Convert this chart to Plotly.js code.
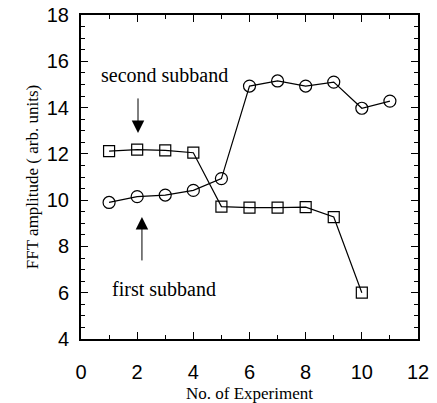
<!DOCTYPE html>
<html><head><meta charset="utf-8">
<script src="https://cdn.plot.ly/plotly-3.0.1.min.js"></script>
<style>html,body{margin:0;padding:0;background:#fff}</style>
</head><body><div id="chart" style="width:437px;height:403px"></div>
<script>
const experiments = [1,2,3,4,5,6,7,8,9,10,11];
const firstSubband = [9.9,10.15,10.22,10.42,10.93,14.93,15.15,14.93,15.1,13.97,14.28];
const secondExperiments = [1,2,3,4,5,6,7,8,9,10];
const secondSubband = [12.12,12.18,12.15,12.05,9.72,9.68,9.68,9.7,9.27,6.0];
const xTicks = [0,2,4,6,8,10,12];
const yTicks = [4,6,8,10,12,14,16,18];

const serif = "'Liberation Serif', 'Times New Roman', serif";
const sans = "'Liberation Sans', Arial, sans-serif";

const traces = [
  {x: experiments, y: firstSubband, mode:'lines+markers', type:'scatter',
   line:{color:'#000', width:1.2},
   marker:{symbol:'circle-open', size:12, color:'#000', line:{width:1.2, color:'#000'}}},
  {x: secondExperiments, y: secondSubband, mode:'lines+markers', type:'scatter',
   line:{color:'#000', width:1.2},
   marker:{symbol:'square-open', size:11, color:'#000', line:{width:1.2, color:'#000'}}}
];

const axisCommon = {showgrid:false, zeroline:false, showline:true, linecolor:'#000', linewidth:2,
  mirror:'ticks', ticks:'inside', tickcolor:'#000', ticklen:7, tickwidth:1,
  tickfont:{family:sans, size:20, color:'#000'}};

const layout = {
  width:437, height:403, margin:{l:81, r:19, t:15, b:64},
  paper_bgcolor:'#fff', plot_bgcolor:'#fff', showlegend:false,
  xaxis: Object.assign({}, axisCommon, {range:[0,12], tickvals:xTicks, ticktext:xTicks.map(String),
    ticklabelstandoff:14,
    minor:{dtick:1, ticks:'inside', ticklen:4, tickcolor:'#000', tickwidth:1},
    title:{text:'No. of Experiment', font:{family:serif, size:17, color:'#000'}, standoff:6}}),
  yaxis: Object.assign({}, axisCommon, {range:[4,18], tickvals:yTicks, ticktext:yTicks.map(String),
    ticklabelstandoff:6,
    minor:{dtick:0.5, ticks:'inside', ticklen:4, tickcolor:'#000', tickwidth:1},
    title:{text:'FFT amplitude ( arb. units)', font:{family:serif, size:17, color:'#000'}, standoff:4}}),
  annotations: [
    {x:2.96, y:15.41, xref:'x', yref:'y', text:'second subband', showarrow:false,
     font:{family:serif, size:20, color:'#000'}},
    {x:2.96, y:6.16, xref:'x', yref:'y', text:'first subband', showarrow:false,
     font:{family:serif, size:20, color:'#000'}},
    {x:2.03, y:12.9, ax:2.03, ay:14.46, xref:'x', yref:'y', axref:'x', ayref:'y', text:'',
     showarrow:true, arrowhead:2, arrowsize:2.5, arrowwidth:1, arrowcolor:'#000'},
    {x:2.17, y:9.27, ax:2.17, ay:7.33, xref:'x', yref:'y', axref:'x', ayref:'y', text:'',
     showarrow:true, arrowhead:2, arrowsize:2.5, arrowwidth:1, arrowcolor:'#000'}
  ]
};
Plotly.newPlot('chart', traces, layout, {displayModeBar:false, staticPlot:true});
</script></body></html>
